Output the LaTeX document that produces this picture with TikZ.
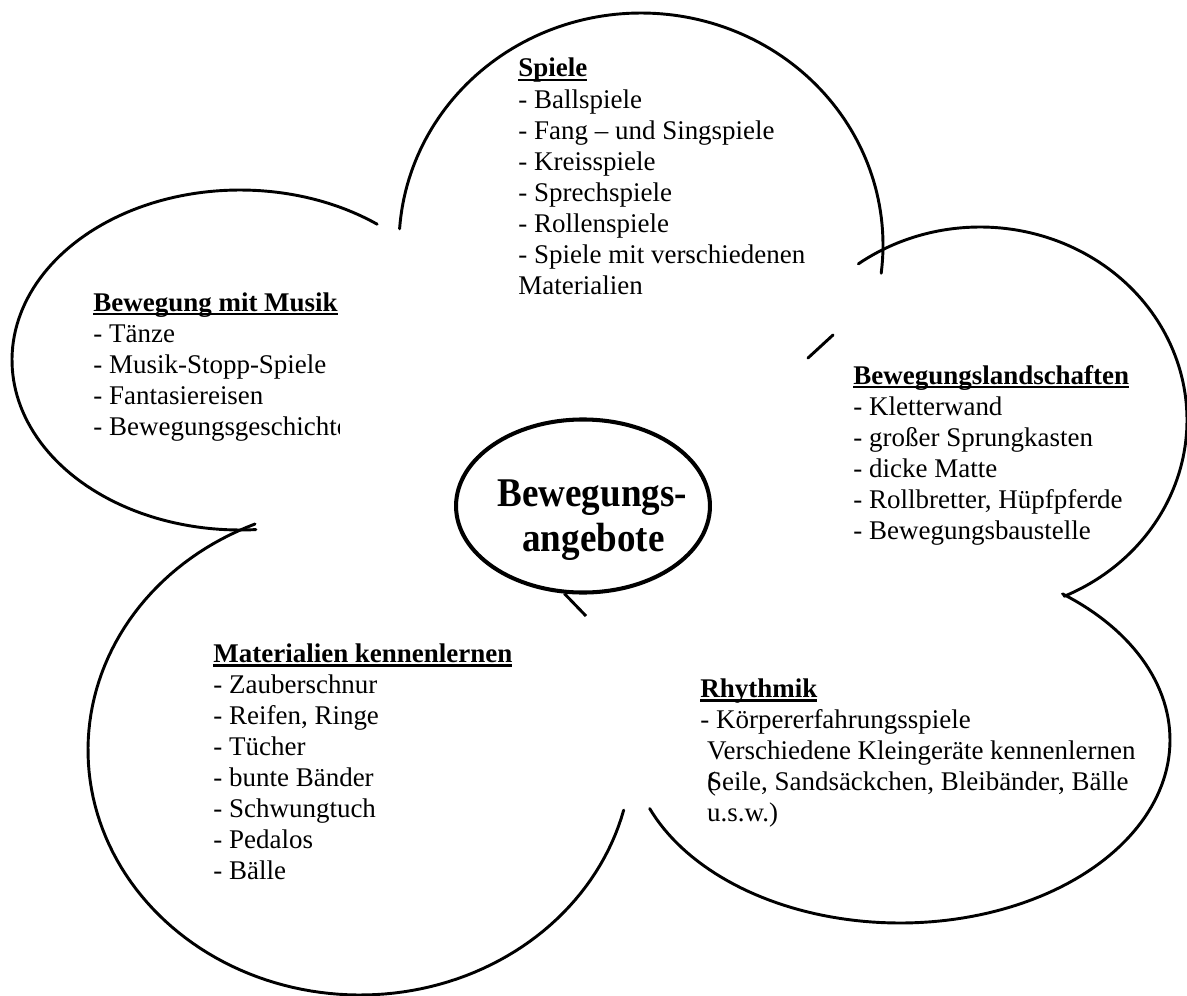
\documentclass[tikz,border=0pt]{standalone}
\usepackage{fontspec}
\setmainfont{Liberation Serif}
\usetikzlibrary{shapes.geometric}
\newcommand{\ulbf}[1]{\setbox0\hbox{\textbf{#1}}\rlap{\rule[-2pt]{\wd0}{0.9pt}}\box0}
\begin{document}
\begin{tikzpicture}[x=0.445pt, y=-0.445pt,
  petal/.style={line width=1.3pt, line join=round, line cap=round},
  txt/.style={anchor=base west, inner sep=0pt, font=\fontsize{12}{13.8}\selectfont},
  centertxt/.style={anchor=base west, inner sep=0pt, font=\fontsize{16.5}{18}\selectfont\bfseries, yscale=1.1}]
\useasboundingbox (0,0) rectangle (1187,996);

% petals
\draw[petal] plot[domain=184:367, samples=120] ({641+242*cos(\x)}, {245+232*sin(\x)});
\draw[petal] plot[domain=86:307, samples=120] ({240+228*cos(\x)}, {360+170*sin(\x)});
\draw[petal] plot[domain=234:426, samples=120] ({980+207*cos(\x)}, {420+193*sin(\x)});
\draw[petal] plot[domain=-53:158, samples=120] ({900+270*cos(\x)}, {740+183*sin(\x)});
\draw[petal] plot[domain=14.2:247.3, samples=120] ({360+272*cos(\x)}, {750+245*sin(\x)});

% small stroke
\coordinate (s1) at (808,358);
\coordinate (s2) at (833,335);
\draw[petal] (s1) -- (s2);

% centre
\node[ellipse, draw, line width=1.8pt, minimum width=113pt, minimum height=77pt, inner sep=0pt] (c) at (583,506) {};
\coordinate (tailend) at (586,616);
\draw[line width=1.3pt] (c.258) -- (tailend);
\node[centertxt] (c1) at (497,506) {Bewegungs-};
\node[centertxt] (c2) at (522,551) {angebote};

% texts
\node[txt] (spiele) at (518,77) {\begin{tabular}[t]{@{}l@{}}
\ulbf{Spiele}\\
- Ballspiele\\
- Fang – und Singspiele\\
- Kreisspiele\\
- Sprechspiele\\
- Rollenspiele\\
- Spiele mit verschiedenen\\
Materialien
\end{tabular}};

\begin{scope}
\clip (0,0) rectangle (339,996);
\node[txt] (musik) at (93,311) {\begin{tabular}[t]{@{}l@{}}
\ulbf{Bewegung mit Musik}\\
- Tänze\\
- Musik-Stopp-Spiele\\
- Fantasiereisen\\
- Bewegungsgeschichte
\end{tabular}};
\end{scope}

\node[txt] (land) at (853,384) {\begin{tabular}[t]{@{}l@{}}
\ulbf{Bewegungslandschaften}\\
- Kletterwand\\
- großer Sprungkasten\\
- dicke Matte\\
- Rollbretter, Hüpfpferde\\
- Bewegungsbaustelle
\end{tabular}};

\node[txt] (mat) at (213,662) {\begin{tabular}[t]{@{}l@{}}
\ulbf{Materialien kennenlernen}\\
- Zauberschnur\\
- Reifen, Ringe\\
- Tücher\\
- bunte Bänder\\
- Schwungtuch\\
- Pedalos\\
- Bälle
\end{tabular}};

\node[txt] (rhy) at (700,697) {\begin{tabular}[t]{@{}l@{}}
\ulbf{Rhythmik}\\
- Körpererfahrungsspiele\\
\ Verschiedene Kleingeräte kennenlernen\\
\ \rlap{(}Seile, Sandsäckchen, Bleibänder, Bälle\\
\ u.s.w.)
\end{tabular}};
\end{tikzpicture}
\end{document}
